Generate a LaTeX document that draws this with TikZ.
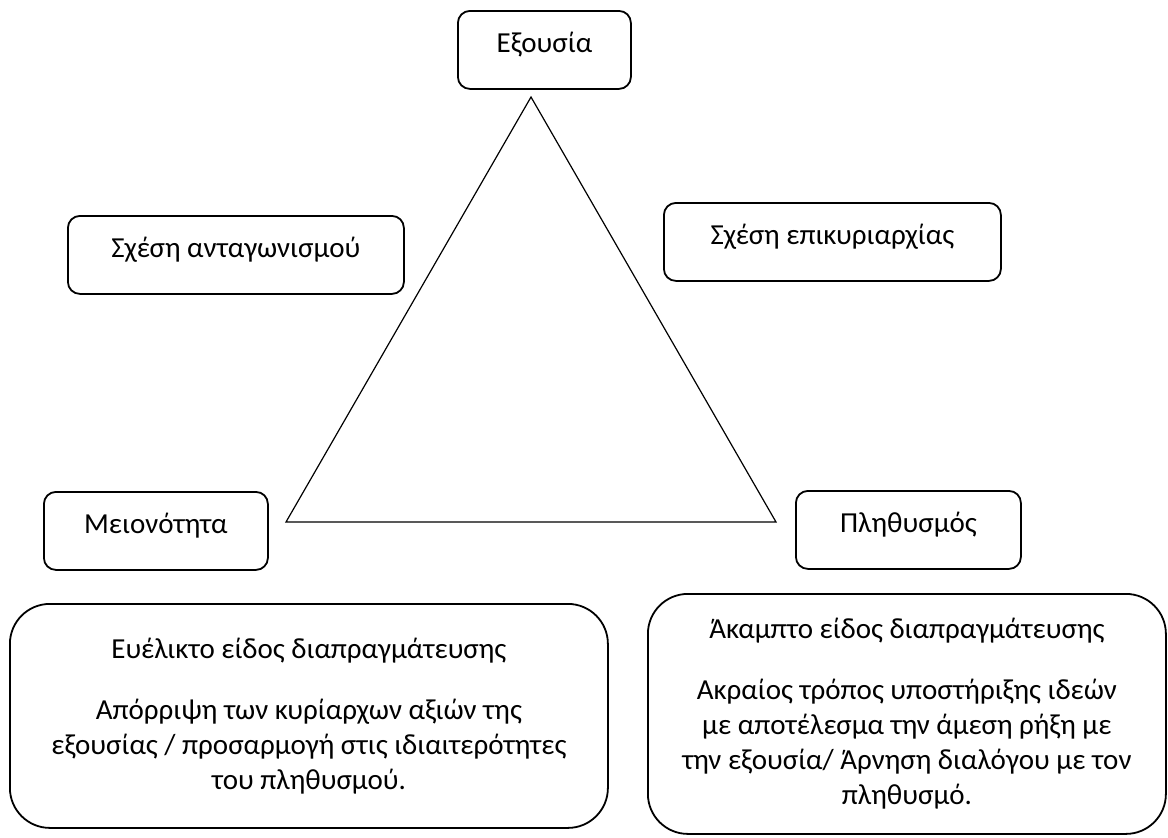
\documentclass[tikz,border=0pt]{standalone}
\usepackage{fontspec}
\setmainfont{Carlito}
\usetikzlibrary{positioning}

\begin{document}
\begin{tikzpicture}[x=0.5pt,y=-0.5pt]
\tikzstyle{box} = [rectangle, draw, line width=0.9pt, rounded corners=6pt,
anchor=north west, inner sep=0pt, text height=21pt, text depth=18pt,
font=\fontsize{14.5}{17.5}\selectfont]
\tikzstyle{bigbox} = [rectangle, draw, line width=0.9pt, rounded corners=20pt,
anchor=north west, align=center, inner sep=0pt,
font=\fontsize{14.5}{17.5}\selectfont]
\tikzstyle{side} = [draw, line width=0.6pt]
\useasboundingbox (0,0) rectangle (1168,837);

% corners of the triangle
\coordinate (apex) at (531,97);
\coordinate (left) at (286,522);
\coordinate (right) at (776,522);
\path[side] (apex) -- (left) -- (right) -- cycle;

% the three actors
\node [box, minimum width=86.5pt] (power) at (457,10) {Εξουσία};
\node [box, minimum width=112pt] (minority) at (43,491) {Μειονότητα};
\node [box, minimum width=112.5pt] (population) at (795,490) {Πληθυσμός};

% relations
\node [box, minimum width=168pt] (rivalry) at (67,215) {Σχέση ανταγωνισμού};
\node [box, minimum width=168.5pt] (dominance) at (663,202) {Σχέση επικυριαρχίας};

% ways of negotiation
\node [bigbox, minimum width=299pt, minimum height=112pt] (flexible) at (9,603) {
Ευέλικτο είδος διαπραγμάτευσης\\[13pt]
Απόρριψη των κυρίαρχων αξιών της\\
εξουσίας / προσαρμογή στις ιδιαιτερότητες\\
του πληθυσμού.};
\node [bigbox, minimum width=259pt, minimum height=120pt] (rigid) at (647,593) {
Άκαμπτο είδος διαπραγμάτευσης\\[13pt]
Ακραίος τρόπος υποστήριξης ιδεών\\
με αποτέλεσμα την άμεση ρήξη με\\
την εξουσία/ Άρνηση διαλόγου με τον\\
πληθυσμό.};
\end{tikzpicture}
\end{document}
